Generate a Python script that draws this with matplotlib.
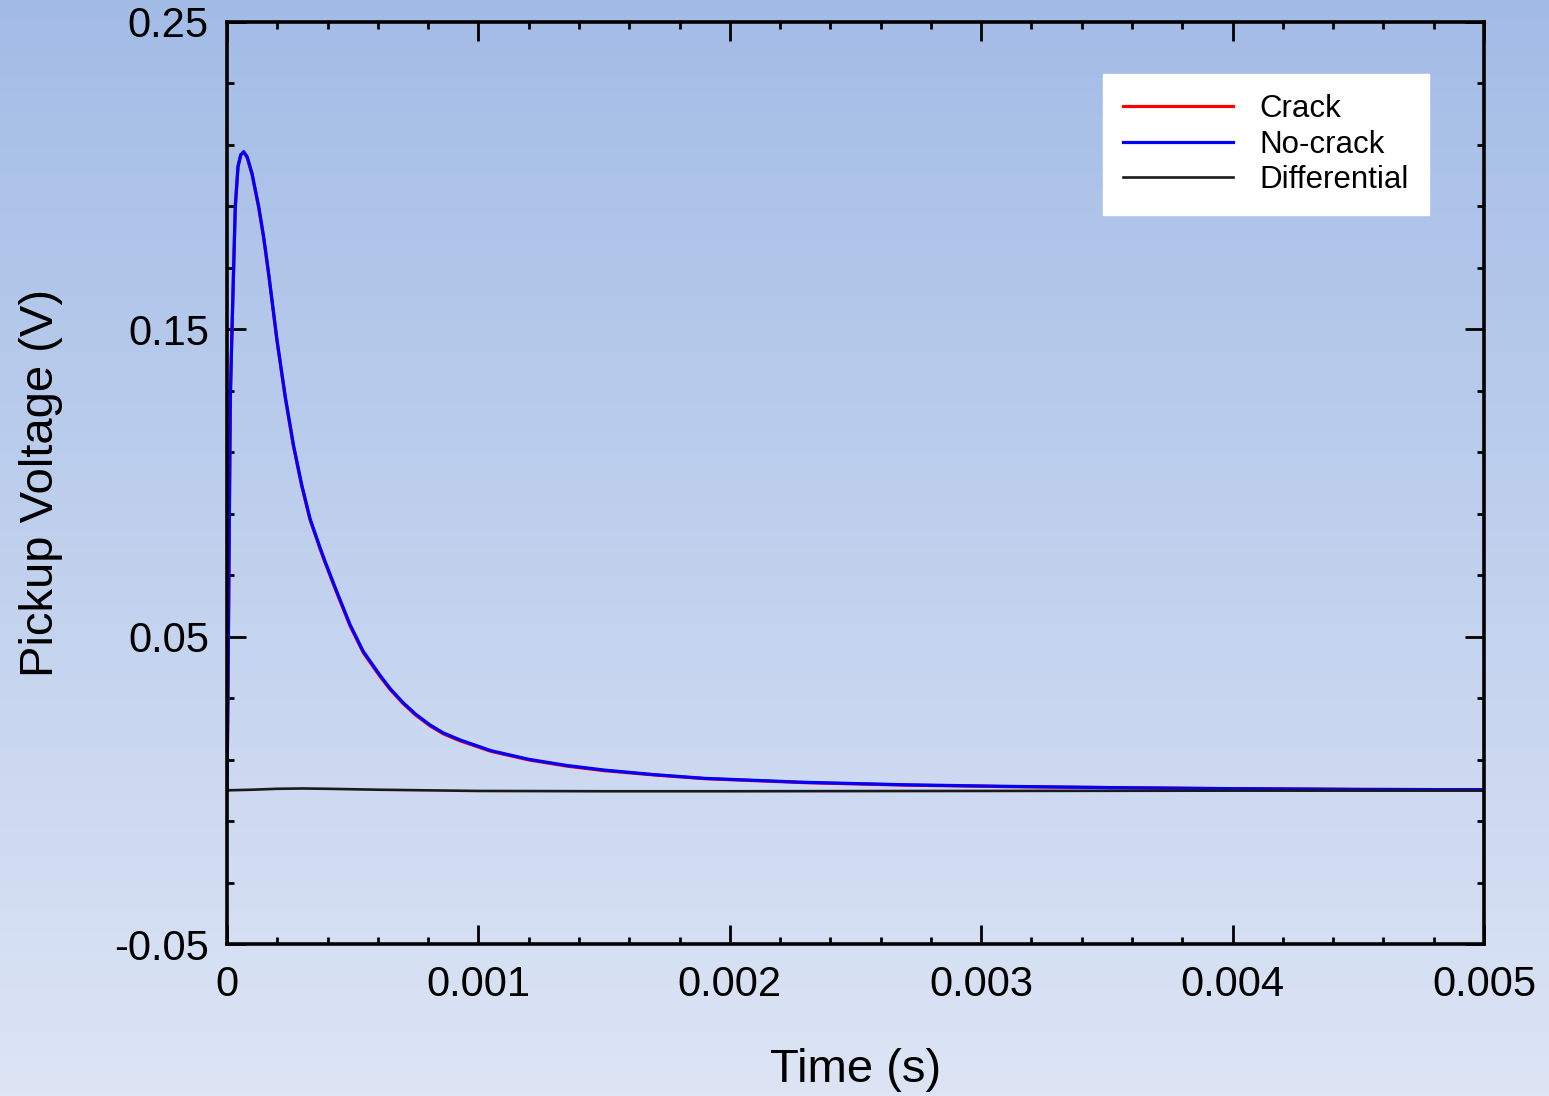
import numpy as np
import matplotlib
matplotlib.use("Agg")
import matplotlib.pyplot as plt
from matplotlib.ticker import FixedLocator

plt.rcParams['font.family'] = ['Liberation Sans', 'DejaVu Sans']

# values (time in s, voltage in V)
t = [0, 0.000004, 0.000008, 0.0000133, 0.00002, 0.0000266, 0.000033,
     0.0000438, 0.000055, 0.0000664, 0.00008, 0.0000994, 0.000126,
     0.000146, 0.000166, 0.000199, 0.000232, 0.000264, 0.000297,
     0.00033, 0.00037, 0.00039, 0.000436, 0.000489, 0.000542, 0.000609,
     0.00065, 0.000701, 0.00075, 0.000807, 0.00086, 0.000927, 0.00105,
     0.0012, 0.00135, 0.0015, 0.0017, 0.0019, 0.0023, 0.0027, 0.0031,
     0.0035, 0.0039, 0.0045, 0.005]
nocrack = [0.0, 0.033, 0.075, 0.128, 0.150, 0.1704, 0.190,
           0.203, 0.2068, 0.2078, 0.2062, 0.2008, 0.190,
           0.180, 0.168, 0.1465, 0.128, 0.1125, 0.0995,
           0.0885, 0.0790, 0.0745, 0.0648, 0.0540, 0.0452, 0.0374,
           0.0330, 0.0285, 0.0248, 0.0213, 0.0187, 0.0164, 0.0129,
           0.0101, 0.0081, 0.0066, 0.0051, 0.0039, 0.0026, 0.0018, 0.0013,
           0.0009, 0.0006, 0.0003, 0.0002]
crack = [0.0, 0.033, 0.075, 0.128, 0.150, 0.1704, 0.190,
         0.203, 0.2068, 0.2076, 0.2059, 0.2004, 0.1896,
         0.1796, 0.1676, 0.1461, 0.1276, 0.1121, 0.0991,
         0.0881, 0.0786, 0.0741, 0.0644, 0.0536, 0.0448, 0.0370,
         0.0327, 0.0282, 0.0245, 0.0210, 0.0184, 0.0161, 0.0127,
         0.0099, 0.0079, 0.0064, 0.0050, 0.0038, 0.0025, 0.0017, 0.0012,
         0.0009, 0.0006, 0.0003, 0.0002]
t_diff = [0, 0.0001, 0.0002, 0.0003, 0.0004, 0.0006, 0.0008, 0.001,
          0.0015, 0.002, 0.003, 0.004, 0.005]
diff = [0.0, 0.0002, 0.0005, 0.0006, 0.0005, 0.0002, 0.0, -0.0002,
        -0.0003, -0.0003, -0.0002, -0.0001, -0.0001]

x_major = [0, 0.001, 0.002, 0.003, 0.004, 0.005]
x_labels = ['0', '0.001', '0.002', '0.003', '0.004', '0.005']
y_major = [-0.05, 0.05, 0.15, 0.25]
y_labels = ['-0.05', '0.05', '0.15', '0.25']

fig = plt.figure(figsize=(15.49, 10.96), dpi=100)

# gradient background
bg = fig.add_axes([0, 0, 1, 1], zorder=-1)
top = np.array([163, 188, 230]) / 255
bot = np.array([221, 229, 245]) / 255
g = np.linspace(0, 1, 256)[:, None]
grad = top[None, :] * (1 - g) + bot[None, :] * g
bg.imshow(grad[:, None, :], aspect='auto', extent=[0, 1, 0, 1])
bg.axis('off')

ax = fig.add_axes([227 / 1549, 1 - 944 / 1096, (1484 - 227) / 1549, (944 - 22) / 1096])
ax.patch.set_alpha(0)

ax.plot(t, crack, color='red', lw=2.3, label='Crack')
ax.plot(t, nocrack, color='blue', lw=2.3, label='No-crack')
ax.plot(t_diff, diff, color='#1a1a1a', lw=1.9, label='Differential')

ax.set_xlim(0, 0.005)
ax.set_ylim(-0.05, 0.25)
ax.set_xticks(x_major)
ax.set_xticklabels(x_labels)
ax.set_yticks(y_major)
ax.set_yticklabels(y_labels)
xm = [v for v in np.arange(0, 0.00501, 0.0002) if min(abs(v - m) for m in x_major) > 1e-9]
ym = [v for v in np.arange(-0.05, 0.2501, 0.02) if min(abs(v - m) for m in y_major) > 1e-9]
ax.xaxis.set_minor_locator(FixedLocator(xm))
ax.yaxis.set_minor_locator(FixedLocator(ym))

ax.tick_params(which='both', direction='in', top=True, right=True, width=2, labelsize=30)
ax.tick_params(which='major', length=14)
ax.tick_params(which='minor', length=5)
ax.tick_params(axis='x', which='major', pad=15)
ax.tick_params(axis='y', which='major', pad=13)
for s in ax.spines.values():
    s.set_linewidth(2.6)

ax.set_xlabel('Time (s)', fontsize=34, va='center', ha='center')
ax.set_ylabel('Pickup Voltage (V)', fontsize=34, va='center', ha='center')
ax.xaxis.set_label_coords(0.5, -(1070 - 944) / 922)
ax.yaxis.set_label_coords((41 - 227) / 1257, 0.5)

leg = ax.legend(loc='upper right', bbox_to_anchor=(1429 / 1549, 1 - 74 / 1096),
                bbox_transform=fig.transFigure, fontsize=22.5, frameon=True,
                fancybox=False, handlelength=3.5, handletextpad=0.85,
                labelspacing=0.17, borderpad=0.65, borderaxespad=0)
leg.get_frame().set_facecolor('white')
leg.get_frame().set_edgecolor('white')
leg.get_frame().set_alpha(1)

fig.savefig('out.png', dpi=100)
